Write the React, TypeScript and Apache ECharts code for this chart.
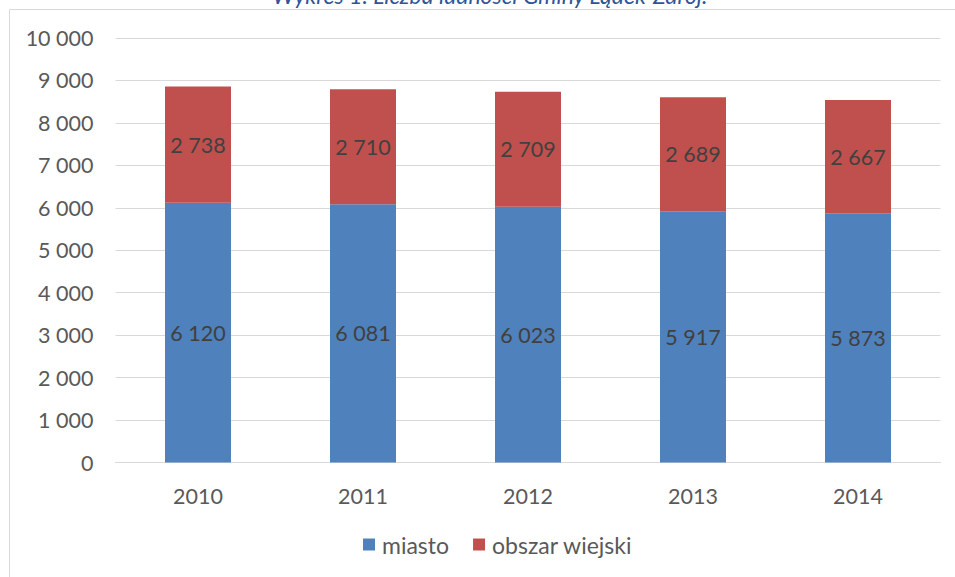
import React, { useEffect, useRef } from "react";
import * as echarts from "echarts";

const years = ["2010", "2011", "2012", "2013", "2014"];
const miasto = [6120, 6081, 6023, 5917, 5873];
const obszarWiejski = [2738, 2710, 2709, 2689, 2667];
const titleText = "Wykres 1. Liczba ludności Gminy Lądek-Zdrój.";

const fmt = (v: number) => {
  const s = String(Math.round(v));
  return s.replace(/\B(?=(\d{3})+(?!\d))/g, " ");
};

const FONT = "Lato";

export default function App() {
  const ref = useRef<HTMLDivElement>(null);
  useEffect(() => {
    if (!ref.current) return;
    const chart = echarts.init(ref.current, undefined, { renderer: "svg" });
    chart.setOption({
      animation: false,
      backgroundColor: "#ffffff",
      textStyle: { fontFamily: FONT },
      graphic: [
        {
          type: "rect",
          shape: { x: 9.5, y: 9.5, width: 980, height: 620 },
          style: { fill: "none", stroke: "#D9D9D9", lineWidth: 1 },
          silent: true,
        },
        {
          type: "text",
          x: 490,
          y: -5,
          style: {
            text: titleText,
            font: `italic 23px ${FONT}`,
            fill: "#2F5597",
            align: "center",
            verticalAlign: "middle",
          },
        },
      ],
      legend: {
        bottom: 16,
        left: 358,
        itemWidth: 12,
        itemHeight: 12,
        itemGap: 24,
        icon: "rect",
        textStyle: { fontSize: 23, color: "#595959", fontFamily: FONT, padding: [0, 0, 0, 2] },
        data: ["miasto", "obszar wiejski"],
      },
      grid: { left: 115.5, right: 14.5, top: 38, bottom: 114.5, containLabel: false },
      xAxis: {
        type: "category",
        data: years,
        axisLine: { lineStyle: { color: "#D9D9D9", width: 1 } },
        axisTick: { show: false },
        axisLabel: { fontSize: 21.5, color: "#595959", margin: 22, fontFamily: FONT },
      },
      yAxis: {
        type: "value",
        min: 0,
        max: 10000,
        interval: 1000,
        axisLine: { show: false },
        axisTick: { show: false },
        splitLine: { lineStyle: { color: "#D9D9D9", width: 1 } },
        axisLabel: {
          fontSize: 21.5,
          color: "#595959",
          margin: 22,
          fontFamily: FONT,
          formatter: (v: number) => fmt(v),
        },
      },
      series: [
        {
          name: "miasto",
          type: "bar",
          stack: "total",
          barWidth: "40%",
          data: miasto,
          itemStyle: { color: "#4F81BD" },
          label: {
            show: true,
            position: "inside",
            fontSize: 21.5,
            color: "#404040",
            fontFamily: FONT,
            formatter: (p: any) => fmt(p.value),
          },
        },
        {
          name: "obszar wiejski",
          type: "bar",
          stack: "total",
          barWidth: "40%",
          data: obszarWiejski,
          itemStyle: { color: "#C0504D" },
          label: {
            show: true,
            position: "inside",
            fontSize: 21.5,
            color: "#404040",
            fontFamily: FONT,
            formatter: (p: any) => fmt(p.value),
          },
        },
      ],
    });
    return () => chart.dispose();
  }, []);
  return (
    <div
      ref={ref}
      style={{ position: "absolute", left: 0, top: 0, width: 955, height: 577 }}
    />
  );
}
